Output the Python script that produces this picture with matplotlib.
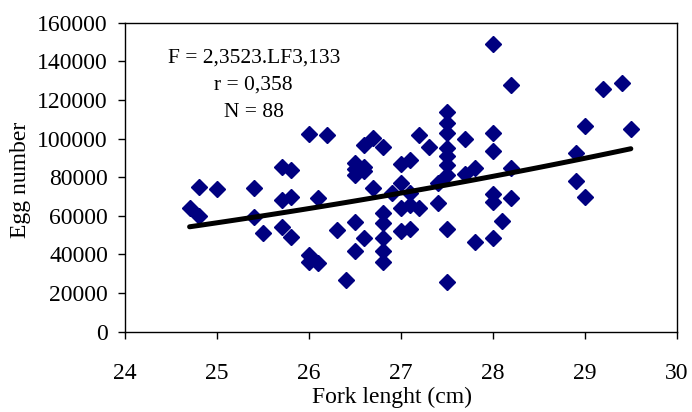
import numpy as np
import matplotlib
matplotlib.use("Agg")
from matplotlib import pyplot as plt

# fork length (cm) and egg number
fork_length = [24.7, 24.8, 24.8, 25.0, 25.4, 25.4, 25.5, 25.7, 25.8, 25.7,
               25.8, 25.7, 25.8, 26.0, 26.1, 26.0, 26.0, 26.1, 26.2, 26.4,
               26.3, 26.5, 26.6, 26.5, 26.5, 26.5, 26.5, 26.6, 26.6, 26.6,
               26.7, 26.8, 26.7, 26.8, 26.8, 26.8, 26.8, 26.8, 26.9, 27.0,
               27.0, 27.1, 27.0, 27.1, 27.2, 27.0, 27.1, 27.1, 27.2, 27.3,
               27.4, 27.4, 27.5, 27.5, 27.5, 27.5, 27.5, 27.5, 27.5, 27.5,
               27.5, 27.7, 27.8, 27.7, 27.8, 28.0, 28.2, 28.0, 28.0, 28.2,
               28.0, 28.0, 28.2, 28.1, 28.0, 28.9, 28.9, 29.0, 29.0, 29.2,
               29.4, 29.5]
egg_number = [64200, 60000, 75000, 74000, 74500, 59500, 51300, 85500, 83700, 68200,
              69600, 54000, 49200, 102400, 69000, 39700, 36200, 35400, 101900, 26600,
              52800, 56600, 48400, 41600, 87300, 84200, 81100, 85400, 83000, 96700,
              100100, 95600, 74200, 61600, 56400, 48600, 41600, 36200, 71700, 76800,
              86800, 88900, 63900, 65800, 63900, 52300, 53100, 72000, 101800, 95800,
              76800, 66500, 113900, 108200, 102700, 95000, 90800, 86300, 81100, 53100,
              25900, 99800, 84600, 81500, 46600, 149000, 127800, 103000, 93500, 84900,
              71300, 67300, 69000, 57300, 48300, 92700, 78000, 106500, 69900, 125600,
              128600, 104900]

# power fit given on the chart: F = 2.3523 * LF^3.133
fit_a = 2.3523
fit_b = 3.133

plt.rcParams['font.family'] = ['Liberation Serif', 'DejaVu Serif']

fig = plt.figure(figsize=(6.92, 4.12), dpi=100)
ax = fig.add_axes([0.181, 0.195, 0.797, 0.750])

ax.plot(fork_length, egg_number, linestyle='none', marker='D', markersize=8,
        color='#000080', markeredgecolor='#000080', zorder=3)

lf = np.linspace(min(fork_length), max(fork_length), 100)
ax.plot(lf, fit_a * lf ** fit_b, color='black', linewidth=3.6,
        solid_capstyle='round', zorder=4)

ax.set_xlim(24, 30)
ax.set_ylim(0, 160000)
ax.set_xticks(np.arange(24, 31, 1))
ax.set_yticks(np.arange(0, 160001, 20000))
ax.tick_params(axis='both', direction='out', length=5, width=1,
               labelsize=17, top=False, right=False)
ax.tick_params(axis='x', pad=17.5)
ax.tick_params(axis='y', pad=7.5)
for sp in ax.spines.values():
    sp.set_linewidth(1)
    sp.set_color('black')

ax.set_xlabel('Fork lenght (cm)', fontsize=17)
ax.xaxis.set_label_coords(0.483, -0.179)
ax.set_ylabel('Egg number', fontsize=17)
ax.yaxis.set_label_coords(-0.171, 0.49)

ax.text(0.233, 0.870, 'F = 2,3523.LF3,133', transform=ax.transAxes,
        ha='center', va='baseline', fontsize=15.5)
ax.text(0.233, 0.782, 'r = 0,358', transform=ax.transAxes,
        ha='center', va='baseline', fontsize=15.5)
ax.text(0.233, 0.695, 'N = 88', transform=ax.transAxes,
        ha='center', va='baseline', fontsize=15.5)

fig.savefig('out.png', dpi=100)
